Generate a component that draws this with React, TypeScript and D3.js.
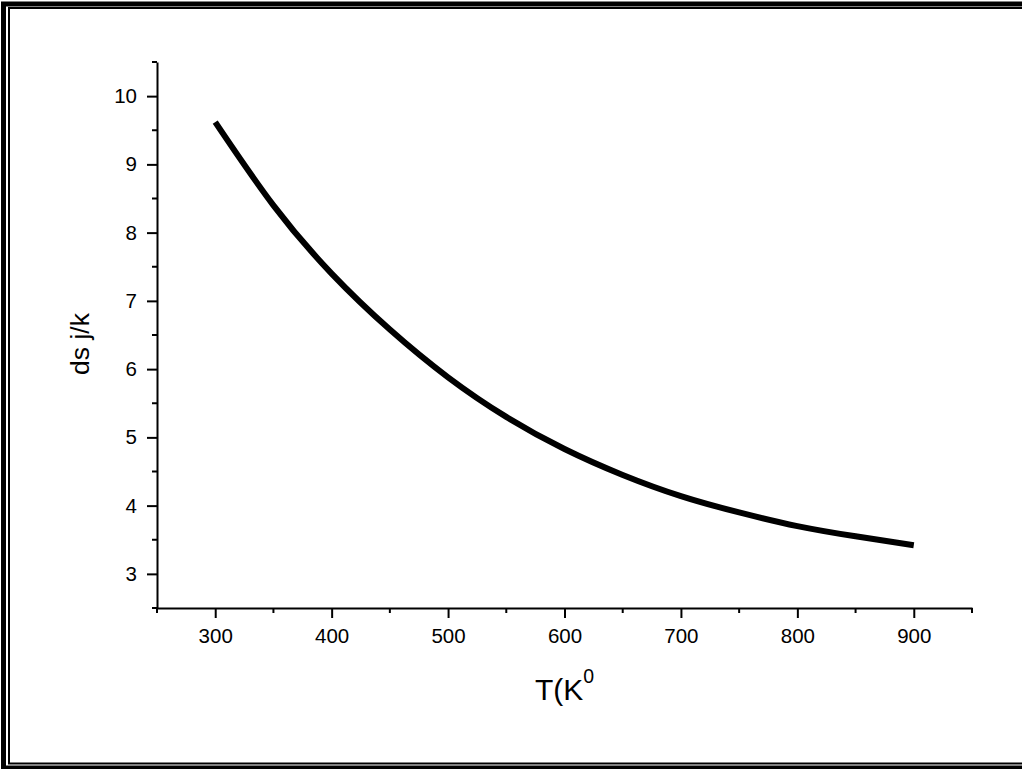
import React, { useEffect, useRef } from "react";
import * as d3 from "d3";

// temperature (K) and ds values
const temps = [300, 350, 400, 450, 500, 550, 600, 650, 700, 750, 800, 850, 900];
const dsValues = [9.62, 8.4, 7.4, 6.58, 5.88, 5.3, 4.83, 4.45, 4.14, 3.9, 3.7, 3.55, 3.42];

const xTicks = [300, 400, 500, 600, 700, 800, 900];
const xMinorTicks = [250, 350, 450, 550, 650, 750, 850, 950];
const yTicks = [3, 4, 5, 6, 7, 8, 9, 10];
const yMinorTicks = [2.5, 3.5, 4.5, 5.5, 6.5, 7.5, 8.5, 9.5, 10.5];

const W = 1022,
  H = 769;

function App() {
  const ref = useRef<SVGSVGElement>(null);

  useEffect(() => {
    const svg = d3.select(ref.current);
    svg.selectAll("*").remove();

    const font = "'Liberation Sans', Arial, sans-serif";

    // frame (double border, right side falls off the canvas)
    svg.append("rect")
      .attr("x", 3.5).attr("y", 4)
      .attr("width", W + 20).attr("height", 764)
      .attr("fill", "white")
      .attr("stroke", "black")
      .attr("stroke-width", 5);
    svg.append("rect")
      .attr("x", 9).attr("y", 8)
      .attr("width", W + 20).attr("height", 755.5)
      .attr("fill", "none")
      .attr("stroke", "black")
      .attr("stroke-width", 2);

    const x = d3.scaleLinear().domain([250, 950]).range([157, 972]);
    const y = d3.scaleLinear().domain([2.5, 10.5]).range([608, 62]);

    // x axis
    const gx = svg.append("g").attr("transform", "translate(0,608)");
    gx.call(d3.axisBottom(x).tickValues(xTicks).tickSize(10).tickPadding(10).tickSizeOuter(0))
      .call(g => g.select(".domain").attr("stroke-width", 2))
      .call(g => g.selectAll(".tick line").attr("stroke-width", 2))
      .call(g => g.selectAll("text").attr("font-size", 20.5).attr("font-family", font));
    gx.selectAll(".minor")
      .data(xMinorTicks)
      .enter()
      .append("line")
      .attr("x1", d => x(d)).attr("x2", d => x(d))
      .attr("y1", 0).attr("y2", 5)
      .attr("stroke", "black")
      .attr("stroke-width", 2);

    // y axis
    const gy = svg.append("g").attr("transform", "translate(157,0)");
    gy.call(d3.axisLeft(y).tickValues(yTicks).tickSize(10).tickPadding(10).tickSizeOuter(0))
      .call(g => g.select(".domain").attr("stroke-width", 2))
      .call(g => g.selectAll(".tick line").attr("stroke-width", 2))
      .call(g => g.selectAll("text").attr("font-size", 20.5).attr("font-family", font));
    gy.selectAll(".minor")
      .data(yMinorTicks)
      .enter()
      .append("line")
      .attr("y1", d => y(d)).attr("y2", d => y(d))
      .attr("x1", 0).attr("x2", -5)
      .attr("stroke", "black")
      .attr("stroke-width", 2);

    // curve
    const pts = temps.map((t, i) => [t, dsValues[i]] as [number, number]);
    svg.append("path")
      .datum(pts)
      .attr("fill", "none")
      .attr("stroke", "black")
      .attr("stroke-width", 6)
      .attr("d", d3.line<[number, number]>()
        .x(d => x(d[0]))
        .y(d => y(d[1]))
        .curve(d3.curveNatural));

    // axis titles
    svg.append("text")
      .attr("transform", "translate(89,344) rotate(-90)")
      .attr("text-anchor", "middle")
      .attr("font-family", font)
      .attr("font-size", 26.5)
      .text("ds j/k");

    const xt = svg.append("text")
      .attr("x", 535).attr("y", 700)
      .attr("font-family", font)
      .attr("font-size", 30)
      .text("T(K");
    xt.append("tspan")
      .attr("dy", -17)
      .attr("font-size", 19.5)
      .text("0");
  }, []);

  return (
    <svg
      ref={ref}
      width={W}
      height={H}
      style={{ position: "absolute", left: 0, top: 0, display: "block" }}
    />
  );
}

export default App;
